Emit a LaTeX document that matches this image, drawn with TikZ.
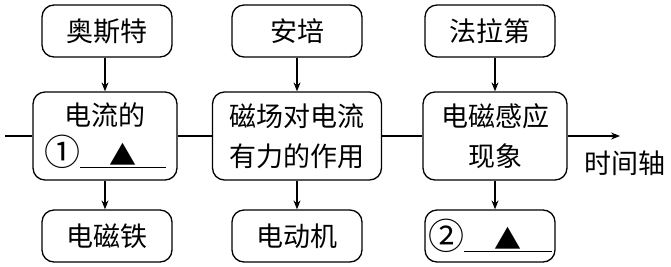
\documentclass[tikz,border=0pt]{standalone}
\usepackage{fontspec}
\setmainfont{Noto Sans CJK SC}
\usetikzlibrary{arrows.meta}

\newcommand{\blankline}[1]{\underline{\makebox[#1]{▲}}}
\newcommand{\bignum}[1]{{\fontsize{36}{36}\selectfont #1}}

\begin{document}
\begin{tikzpicture}[x=1pt, y=-1pt,
    box/.style={rectangle, rounded corners=12pt, draw=black, line width=1.3pt, inner sep=2pt, font=\fontsize{27}{40}\selectfont, align=center},
    nodeTop/.style={box, minimum width=130pt, minimum height=52pt},
    nodeMid/.style={box, minimum width=144pt, minimum height=88pt},
    link/.style={line width=1.1pt, -{Stealth[length=9pt, width=7pt]}}]

    \useasboundingbox (0,0) rectangle (671,266);

    % Scientists
    \node[nodeTop] (Oersted) at (107, 31) {奥斯特};
    \node[nodeTop] (Ampere) at (297, 31) {安培};
    \node[nodeTop] (Faraday) at (490, 31) {法拉第};

    % Discoveries on the time axis
    \node[nodeMid] (Current) at (105, 136) {电流的\\\bignum{①}\blankline{86pt}};
    \node[nodeMid, minimum width=169pt] (Force) at (297, 136) {磁场对电流\\有力的作用};
    \node[nodeMid] (Induction) at (495, 136) {电磁感应\\现象};

    % Applications
    \node[nodeTop] (Magnet) at (107, 236) {电磁铁};
    \node[nodeTop] (Motor) at (297, 236) {电动机};
    \node[nodeTop] (Use) at (490, 236) {\bignum{②}\blankline{88pt}};

    % Time axis
    \coordinate (axisStart) at (5, 136);
    \coordinate (axisEnd) at (620, 136);
    \node[font=\fontsize{27}{30}\selectfont, anchor=west] (axisLabel) at (581, 163) {时间轴};
    \draw[line width=1.1pt] (axisStart) -- (Current);
    \draw[line width=1.1pt] (Current) -- (Force);
    \draw[line width=1.1pt] (Force) -- (Induction);
    \draw[link] (Induction) -- (axisEnd);

    % Vertical links
    \draw[link] (Oersted.south -| Current) -- (Current);
    \draw[link] (Ampere) -- (Force);
    \draw[link] (Faraday.south -| Induction) -- (Induction);
    \draw[link] (Current) -- (Current |- Magnet.north);
    \draw[link] (Force) -- (Motor);
    \draw[link] (Induction) -- (Induction |- Use.north);

\end{tikzpicture}
\end{document}
